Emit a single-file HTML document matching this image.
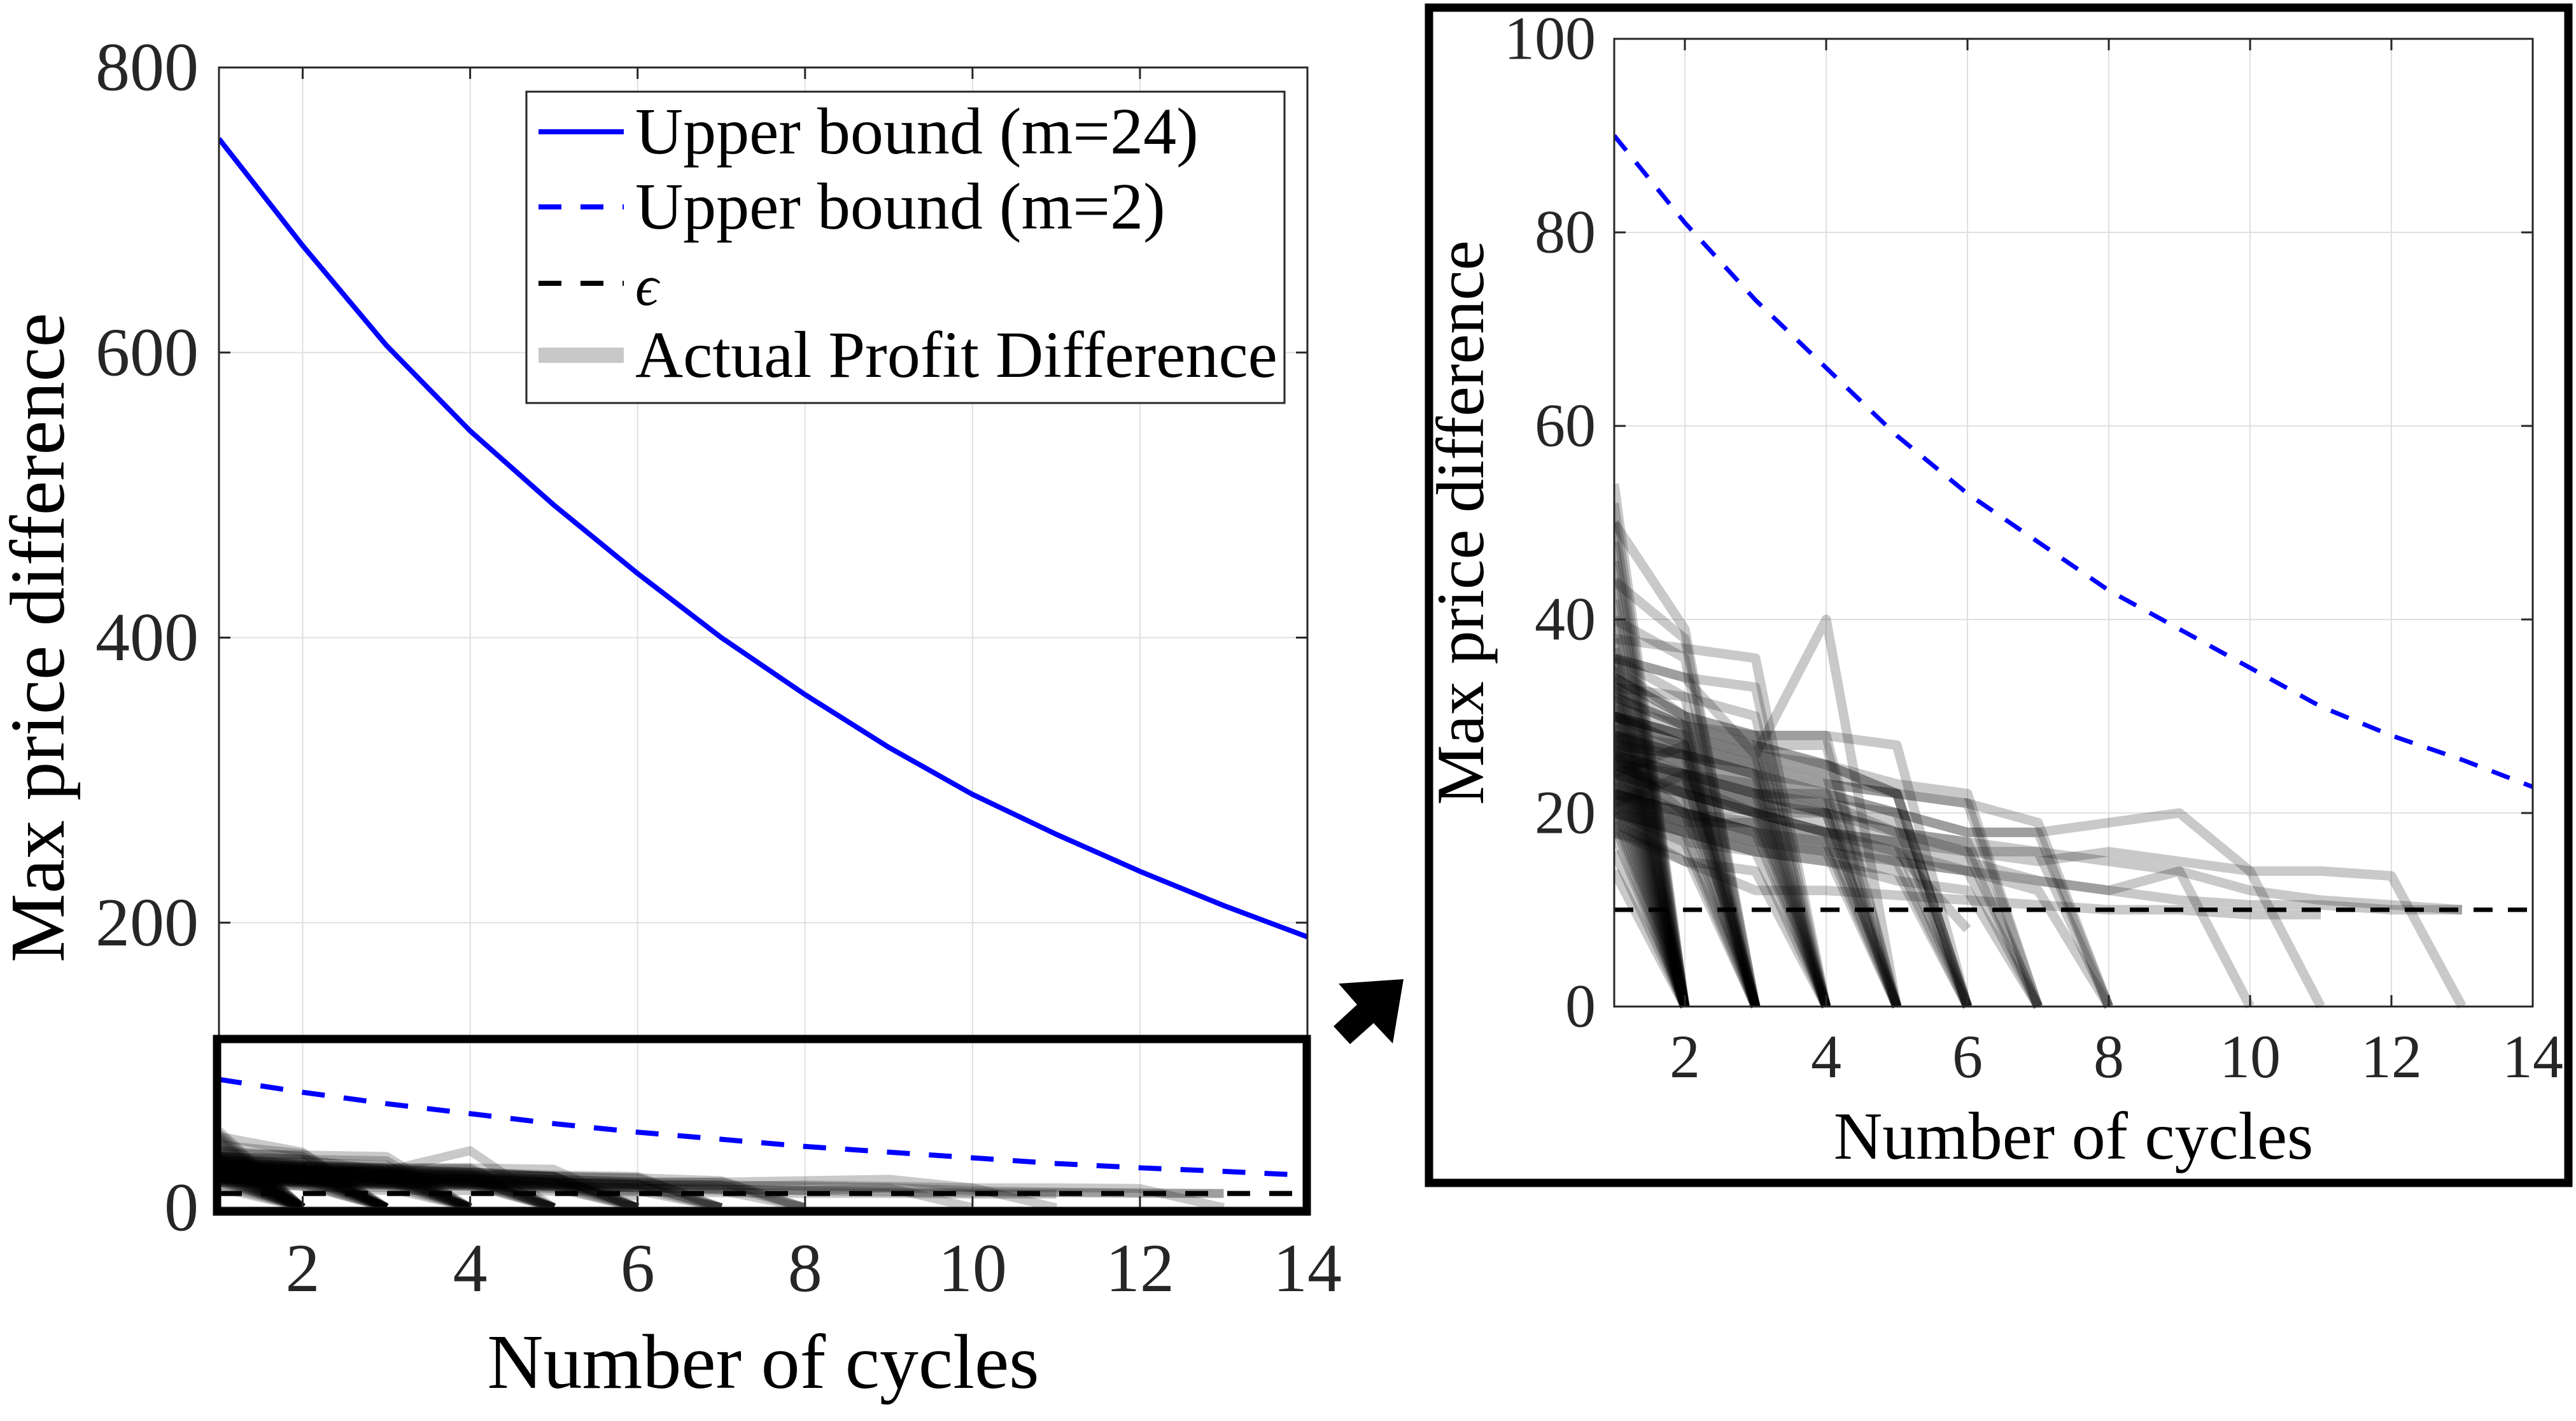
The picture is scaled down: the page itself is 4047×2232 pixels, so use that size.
<!DOCTYPE html>
<html><head><meta charset="utf-8"><style>
html,body{margin:0;padding:0;background:#fff;}
svg, svg text{font-family:"Liberation Serif","DejaVu Serif",serif;}
svg{display:block;}
</style></head><body>
<svg id="fig" width="4047" height="2232" viewBox="0 0 4047 2232" xmlns="http://www.w3.org/2000/svg" font-family="Liberation Serif, DejaVu Serif, serif">
<rect width="4047" height="2232" fill="#fff"/>
<g id="left"></g>
<g id="right"></g>
<polygon fill="#000" points="2103,1545 2205,1538 2188,1639 2158,1607 2121,1640 2095,1612 2132,1578"/>
</svg>
<script>
const cycles = [1,2,3,4,5,6,7,8,9,10,11,12,13,14];
const boundM24 = [750,675,605,545,493,445,400,360,323,290,262,236,212,190];
const boundM2 = [90,81,73,66,59,53,48,43,39,35,31,28,25.5,22.7];
const epsilon = 10;
const xTicks = [2,4,6,8,10,12,14];
const yTicksLeft = [0,200,400,600,800];
const yTicksRight = [0,20,40,60,80,100];
const traces = [
[54,0],[52,0],[50,0],[48,0],[46,0],[44,0],[42,0],[40,0],[38,0],[37,0],[36,0],[35,0],[34,0],[33,0],[32,0],[31,0],[30,0],[29,0],[28,0],[27,0],[26,0],[25,0],[24,0],[23,0],[22,0],[21,0],[20,0],[19,0],[18,0],[16,0],[14,0],
[50,39,0],[44,38,0],[40,36,0],[36,32,0],[34,30,0],[32,29,0],[30,28,0],[29,27,0],[28,25,0],[27,26,0],[26,24,0],[25,22,0],[24,27,0],[23,21,0],[22,20,0],[21,24,0],[20,18,0],[19,17,0],[18,16,0],
[38,37,36,0],[36,34,33,0],[33,32,30,0],[31,29,28,0],[30,28,26,0],[28,27,25,0],[27,26,24,0],[26,20,18,0],[25,24,23,0],[24,23,22,0],[23,22,21,0],[22,21,20,0],[21,19,19,0],[20,17,16,0],[19,15,14,0],
[36,34,26,40,0],[34,30,28,28,0],[30,28,27,27,0],[28,26,25,24,0],[27,25,23,21,0],[26,24,22,22,0],[25,23,21,20,0],[24,22,20,20,0],[22,20,19,18,0],[21,19,18,17,0],[20,18,17,16,0],
[35,30,28,28,27,0],[33,29,27,25,22,0],[30,27,26,25,22,0],[28,26,24,23,22,0],[26,24,22,21,20,0],[25,23,21,20,19,0],[23,20,19,18,17,0],[21,19,17,16,15,0],[20,18,16,15,14,0],
[32,29,27,25,23,22,0],[30,27,25,23,22,21,0],[27,25,23,21,18,17,0],[24,22,20,19,17,16,0],[22,20,18,17,16,14,0],[26,23,20,18,16,8],[21,18,16,15,13,12,0],
[30,28,26,24,22,21,19,0],[28,26,24,22,20,18,18,0],[26,24,22,20,18,17,16,0],[22,20,18,17,15,14,12,0],
[29,26,24,22,20,18,18,19,20,14,14,13.5,0],[27,24,22,20,18,16,15,16,15,14,0],[24,22,20,18,16,15,13,12,14,0],
[22,19,17,16,15,14,13,12,11,10.5,10.5,10,10],[18,15,12,12,11.5,11,10.5,10,10,9.5,9.5],[25,22,20,18,17,16,16,15,14,12,11,10.5,10]
];

const NS="http://www.w3.org/2000/svg";
const FF="Liberation Serif, DejaVu Serif, serif";
function mk(tag, attrs, parent){const e=document.createElementNS(NS,tag);for(const k in attrs)e.setAttribute(k,attrs[k]);if(tag==='text')e.setAttribute('font-family',FF);parent.appendChild(e);return e;}

function drawChart(g, cfg){
  const {x0,x1,y0,y1,ymax,yTicks,fs,lfs,traceW,boundW,xlabY,ylabX,xtickY,ytickX,showM24,clipId,dash}=cfg;
  const sx=v=>x0+(v-1)/(13)*(x1-x0);
  const sy=v=>y0-(v/ymax)*(y0-y1);
  xTicks.forEach(t=>{const l=mk('line',{x1:sx(t),x2:sx(t),y1:y1,y2:y0,stroke:'#e0e0e0','stroke-width':2},g);
    
    });
  yTicks.forEach(t=>{const l=mk('line',{x1:x0,x2:x1,y1:sy(t),y2:sy(t),stroke:'#e0e0e0','stroke-width':2},g);
    
    });
  const defs=mk('defs',{},g);
  const cp=mk('clipPath',{id:clipId},defs);
  mk('rect',{x:x0,y:y1,width:x1-x0,height:y0-y1+8},cp);
  const data=mk('g',{'clip-path':'url(#'+clipId+')'},g);
  
  
  traces.forEach(tr=>{
    const pts=tr.map((v,i)=>sx(cycles[i])+','+sy(v)).join(' ');
    const p=mk('polyline',{points:pts,fill:'none',stroke:'rgba(0,0,0,0.21)','stroke-width':traceW,'stroke-linejoin':'round'},data);
    
    
  });
  const eps=mk('line',{x1:x0,x2:x1,y1:sy(epsilon),y2:sy(epsilon),stroke:'#000','stroke-width':boundW,'stroke-dasharray':dash},data);
  
  
  const b2=mk('polyline',{points:boundM2.map((v,i)=>sx(cycles[i])+','+sy(v)).join(' '),fill:'none',stroke:'#0000ff','stroke-width':boundW,'stroke-dasharray':dash},data);
  
  
  if(showM24){
    const b24=mk('polyline',{points:boundM24.map((v,i)=>sx(cycles[i])+','+sy(v)).join(' '),fill:'none',stroke:'#0000ff','stroke-width':boundW},data);
    
    
  }
  const box=mk('rect',{x:x0,y:y1,width:x1-x0,height:y0-y1,fill:'none',stroke:'#262626','stroke-width':3},g);
  
  
  xTicks.forEach(t=>{
    mk('line',{x1:sx(t),x2:sx(t),y1:y0,y2:y0-18,stroke:'#262626','stroke-width':3},g);
    mk('line',{x1:sx(t),x2:sx(t),y1:y1,y2:y1+18,stroke:'#262626','stroke-width':3},g);
    const tx=mk('text',{x:sx(t),y:xtickY,'text-anchor':'middle','font-size':fs,fill:'#262626'},g);
    tx.textContent=t;
    
    
  });
  yTicks.forEach(t=>{
    mk('line',{x1:x0,x2:x0+18,y1:sy(t),y2:sy(t),stroke:'#262626','stroke-width':3},g);
    mk('line',{x1:x1,x2:x1-18,y1:sy(t),y2:sy(t),stroke:'#262626','stroke-width':3},g);
    const tx=mk('text',{x:ytickX,y:sy(t)+fs*0.33,'text-anchor':'end','font-size':fs,fill:'#262626'},g);
    tx.textContent=t;
    
    
  });
  const xl=mk('text',{x:(x0+x1)/2,y:xlabY,'text-anchor':'middle','font-size':lfs,fill:'#000'},g);
  xl.textContent='Number of cycles';
  
  
  const yc=(y0+y1)/2;
  const yl=mk('text',{x:ylabX,y:yc,'text-anchor':'middle','font-size':lfs,fill:'#000',transform:'rotate(-90 '+ylabX+' '+yc+')'},g);
  yl.textContent='Max price difference';
  
  
  return {sx,sy};
}

const L=document.getElementById('left');
drawChart(L,{x0:344,x1:2054,y0:1897,y1:106,ymax:800,yTicks:yTicksLeft,fs:108,lfs:122,traceW:14,boundW:8,xlabY:2180,ylabX:100,xtickY:2028,ytickX:312,showM24:true,clipId:'clipL',dash:'36 30'});
const zr=mk('rect',{x:341,y:1632,width:1712,height:271,fill:'none',stroke:'#000','stroke-width':13},L);


const lg=mk('g',{},L);


mk('rect',{x:827,y:144,width:1191,height:489,fill:'#fff',stroke:'#262626','stroke-width':3},lg);
const entries=[['Upper bound (m=24)','#0000ff',null,8],['Upper bound (m=2)','#0000ff','36 30',8],['\u03f5','#000','36 30',8],['Actual Profit Difference','#c8c8c8',null,24]];
const ey=[215,333,453,566];
entries.forEach((e,i)=>{
  const gg=mk('g',{},lg);
  
  
  const a={x1:846,x2:980,y1:ey[i]-8,y2:ey[i]-8,stroke:e[1],'stroke-width':e[3]};
  if(e[2])a['stroke-dasharray']=e[2];
  mk('line',a,gg);
  const t=mk('text',{x:998,y:ey[i]+26,'font-size':i==2?90:104,fill:'#000','font-style':i==2?'italic':'normal'},gg);
  t.textContent=e[0];
});

const R=document.getElementById('right');
const ob=mk('rect',{x:2245,y:12,width:1790,height:1846,fill:'none',stroke:'#000','stroke-width':13},R);


drawChart(R,{x0:2536,x1:3979,y0:1581,y1:61,ymax:100,yTicks:yTicksRight,fs:96,lfs:106,traceW:15,boundW:7,xlabY:1820,ylabX:2330,xtickY:1692,ytickX:2507,showM24:false,clipId:'clipR',dash:'30 24'});
</script>
</body></html>
